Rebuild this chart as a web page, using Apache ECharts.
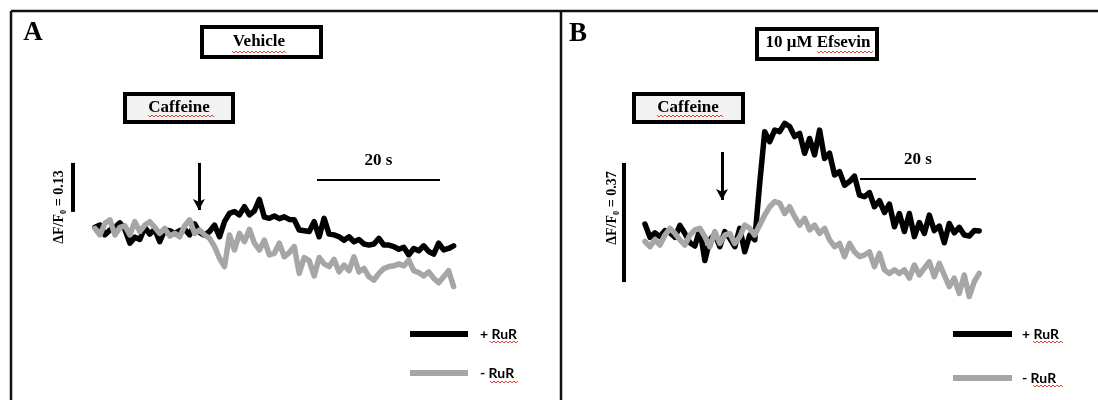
<!DOCTYPE html>
<html>
<head>
<meta charset="utf-8">
<script src="https://cdn.jsdelivr.net/npm/echarts@6/dist/echarts.min.js"></script>
<style>
  html, body { margin: 0; padding: 0; background: #fff; }
  #main { width: 1098px; height: 400px; }
</style>
</head>
<body>
<div id="main"></div>
<script>
// sampling step (seconds) of each recording
const dtA = 0.81;
const dtB = 0.86;

// panel A (Vehicle): dF/F0 traces
const plusRuRA = [0.007, 0.013, -0.013, 0.000, 0.007, 0.019, 0.002, -0.035, -0.019, -0.025,
  0.007, -0.011, 0.002, -0.031, 0.000, -0.002, -0.009, -0.002, 0.002, -0.013,
  0.016, -0.007, -0.014, -0.004, 0.013, -0.018, 0.022, 0.044, 0.049, 0.040,
  0.062, 0.040, 0.051, 0.081, 0.034, 0.031, 0.037, 0.030, 0.035, 0.028,
  0.027, 0.000, -0.002, -0.004, 0.022, -0.018, 0.031, -0.011, -0.013, -0.018,
  -0.027, -0.018, -0.031, -0.025, -0.037, -0.040, -0.037, -0.022, -0.040, -0.040,
  -0.044, -0.051, -0.046, -0.066, -0.049, -0.055, -0.042, -0.057, -0.064, -0.035,
  -0.053, -0.049, -0.042];
const minusRuRA = [0.004, -0.013, 0.018, 0.027, -0.013, 0.007, 0.011, -0.013, 0.022, -0.004,
  0.013, 0.022, 0.007, -0.009, 0.004, -0.016, -0.009, -0.018, 0.011, 0.027,
  -0.009, 0.000, -0.013, -0.022, -0.044, -0.075, -0.097, -0.013, -0.053, -0.009,
  -0.031, 0.002, -0.035, -0.053, -0.027, -0.066, -0.062, -0.035, -0.071, -0.060,
  -0.044, -0.115, -0.073, -0.081, -0.122, -0.073, -0.090, -0.097, -0.078, -0.111,
  -0.093, -0.108, -0.071, -0.111, -0.102, -0.124, -0.133, -0.115, -0.102, -0.097,
  -0.095, -0.090, -0.095, -0.080, -0.108, -0.113, -0.122, -0.111, -0.128, -0.140,
  -0.124, -0.108, -0.150];

// panel B (10 uM Efsevin): dF/F0 traces
const plusRuRB = [0.040, -0.001, 0.013, 0.001, 0.020, 0.013, -0.001, 0.036, 0.011, -0.018,
  -0.028, 0.024, -0.073, -0.009, 0.009, -0.030, 0.017, -0.004, -0.030, 0.027,
  -0.046, 0.006, -0.009, 0.167, 0.327, 0.296, 0.332, 0.327, 0.353, 0.343,
  0.312, 0.322, 0.260, 0.306, 0.255, 0.332, 0.244, 0.260, 0.193, 0.203,
  0.161, 0.172, 0.189, 0.130, 0.125, 0.138, 0.094, 0.113, 0.076, 0.102,
  0.032, 0.073, 0.017, 0.073, 0.001, 0.045, 0.011, 0.068, 0.020, 0.034,
  -0.018, 0.042, 0.013, 0.030, 0.006, 0.003, 0.020, 0.019];
const minusRuRB = [-0.014, -0.030, -0.009, -0.025, 0.006, 0.027, 0.011, -0.009, -0.025, 0.006,
  0.022, 0.027, 0.001, -0.030, 0.017, -0.020, 0.006, 0.011, -0.020, 0.001,
  0.037, 0.027, 0.006, 0.037, 0.068, 0.094, 0.110, 0.105, 0.073, 0.094,
  0.063, 0.037, 0.058, 0.022, 0.037, 0.011, 0.027, -0.009, -0.030, -0.020,
  -0.061, -0.020, -0.046, -0.061, -0.056, -0.046, -0.092, -0.051, -0.102, -0.113,
  -0.102, -0.113, -0.102, -0.128, -0.087, -0.118, -0.097, -0.077, -0.123, -0.082,
  -0.118, -0.154, -0.128, -0.175, -0.118, -0.185, -0.139, -0.113];

// scale bars / caffeine arrow, in seconds and dF/F0
const scaleA = { x: -3.58, y0: 0.048, dy: 0.13, arrowT: 16.9, arrowY: [0.178, 0.053], barT: 36.1, barY: 0.133, barLen: 20 };
const scaleB = { x: -3.62, y0: -0.140, dy: 0.37, arrowT: 13.28, arrowY: [0.264, 0.115], barT: 37.07, barY: 0.180, barLen: 20 };

const serif = '"Liberation Serif", "DejaVu Serif", serif';

function toPairs(arr, dt) {
  return arr.map((v, i) => [i * dt, v]);
}

function markers(s) {
  return {
    silent: true,
    animation: false,
    symbol: 'none',
    label: { show: false },
    data: [
      [{ coord: [s.x, s.y0], lineStyle: { width: 4, color: '#000', type: 'solid' } },
       { coord: [s.x, s.y0 + s.dy] }],
      [{ coord: [s.arrowT, s.arrowY[0]], symbol: 'none', lineStyle: { width: 3, color: '#000', type: 'solid' } },
       { coord: [s.arrowT, s.arrowY[1]], symbol: 'arrow', symbolSize: [9, 11] }],
      [{ coord: [s.barT, s.barY], lineStyle: { width: 2, color: '#000', type: 'solid' },
         label: { show: true, formatter: s.barLen + ' s', position: 'insideMiddleTop', distance: 11,
                  color: '#000', fontFamily: serif, fontWeight: 'bold', fontSize: 17 } },
       { coord: [s.barT + s.barLen, s.barY] }]
    ]
  };
}

function trace(name, data, color, idx, mark) {
  const s = {
    name: name,
    type: 'line',
    xAxisIndex: idx,
    yAxisIndex: idx,
    data: data,
    showSymbol: false,
    silent: true,
    animation: false,
    lineStyle: { color: color, width: 5.5, join: 'round', cap: 'round' },
    itemStyle: { color: color }
  };
  if (mark) s.markLine = mark;
  return s;
}

// red spell-check squiggles under some words
function squiggle(x0, x1, y) {
  const pts = [];
  for (let x = x0, k = 0; x <= x1; x += 2, k++) pts.push([x, y + (k % 2 ? 2 : 0)]);
  return { type: 'polyline', silent: true, z: 110, shape: { points: pts }, style: { stroke: '#e8413a', lineWidth: 1, fill: null } };
}

function box(x, y, w, h, fill) {
  return { type: 'rect', silent: true, z: 100, shape: { x: x + 2, y: y + 2, width: w - 4, height: h - 4 },
    style: { fill: fill, stroke: '#000', lineWidth: 4 } };
}

function label(text, x, y, size, rot) {
  return { type: 'text', silent: true, z: 105, x: x, y: y, rotation: rot || 0,
    style: { text: text, x: 0, y: 0, align: 'center', verticalAlign: 'middle',
      font: 'bold ' + size + 'px ' + serif, fill: '#000' } };
}

function frameLine(x1, y1, x2, y2) {
  return { type: 'line', silent: true, z: 100, shape: { x1: x1, y1: y1, x2: x2, y2: y2 },
    style: { stroke: '#111', lineWidth: 2.5 } };
}

const chart = echarts.init(document.getElementById('main'), null, { renderer: 'canvas' });

const legendText = { fontFamily: 'Lato', fontWeight: 'bold', fontSize: 14, color: '#000' };

const option = {
  backgroundColor: '#fff',
  animation: false,
  grid: [
    { left: 64.25, top: 116.9, width: 412, height: 207.35 },
    { left: 616, top: 92.1, width: 388.6, height: 225.4 }
  ],
  xAxis: [
    { type: 'value', gridIndex: 0, min: -5, max: 62, show: false, splitLine: { show: false } },
    { type: 'value', gridIndex: 1, min: -5, max: 62, show: false, splitLine: { show: false } }
  ],
  yAxis: [
    { type: 'value', gridIndex: 0, min: -0.25, max: 0.3, show: false, splitLine: { show: false } },
    { type: 'value', gridIndex: 1, min: -0.25, max: 0.45, show: false, splitLine: { show: false } }
  ],
  legend: [
    { orient: 'vertical', left: 410, top: 327, padding: 0, itemWidth: 58, itemHeight: 6, itemGap: 25, icon: 'rect',
      selectedMode: false, data: ['+ RuR', '- RuR'],
      textStyle: Object.assign({ padding: [0, 0, 0, 7] }, legendText) },
    { orient: 'vertical', left: 953, top: 327, padding: 0, itemWidth: 59, itemHeight: 6, itemGap: 30, icon: 'rect',
      selectedMode: false, data: ['+ RuR', '- RuR'],
      textStyle: Object.assign({ padding: [0, 0, 0, 5] }, legendText) }
  ],
  series: [
    trace('+ RuR', toPairs(plusRuRA, dtA), '#000', 0, markers(scaleA)),
    trace('- RuR', toPairs(minusRuRA, dtA), '#a6a6a6', 0),
    trace('+ RuR', toPairs(plusRuRB, dtB), '#000', 1, markers(scaleB)),
    trace('- RuR', toPairs(minusRuRB, dtB), '#a6a6a6', 1)
  ],
  graphic: [
    frameLine(11, 11, 1098, 11),
    frameLine(11, 11, 11, 400),
    frameLine(561, 11, 561, 400),
    label('A', 33, 33, 27),
    label('B', 578, 34, 27),
    box(200, 25, 123, 34, '#fff'),
    label('Vehicle', 259, 42, 17),
    box(123, 92, 112, 32, '#f2f2f2'),
    label('Caffeine', 179, 108, 17),
    box(755, 27, 124, 34, '#fff'),
    label('10 μM Efsevin', 818, 43, 17),
    box(632, 92, 113, 32, '#f2f2f2'),
    label('Caffeine', 688, 108, 17),
    label('ΔF/F₀ = 0.13', 59, 207, 14, Math.PI / 2),
    label('ΔF/F₀ = 0.37', 612, 208, 14, Math.PI / 2),
    squiggle(232, 287, 51),
    squiggle(148, 214, 115),
    squiggle(817, 873, 51),
    squiggle(657, 723, 115),
    squiggle(490, 519, 341),
    squiggle(490, 519, 381),
    squiggle(1033, 1063, 341),
    squiggle(1033, 1063, 385)
  ]
};

chart.setOption(option);
</script>
</body>
</html>
